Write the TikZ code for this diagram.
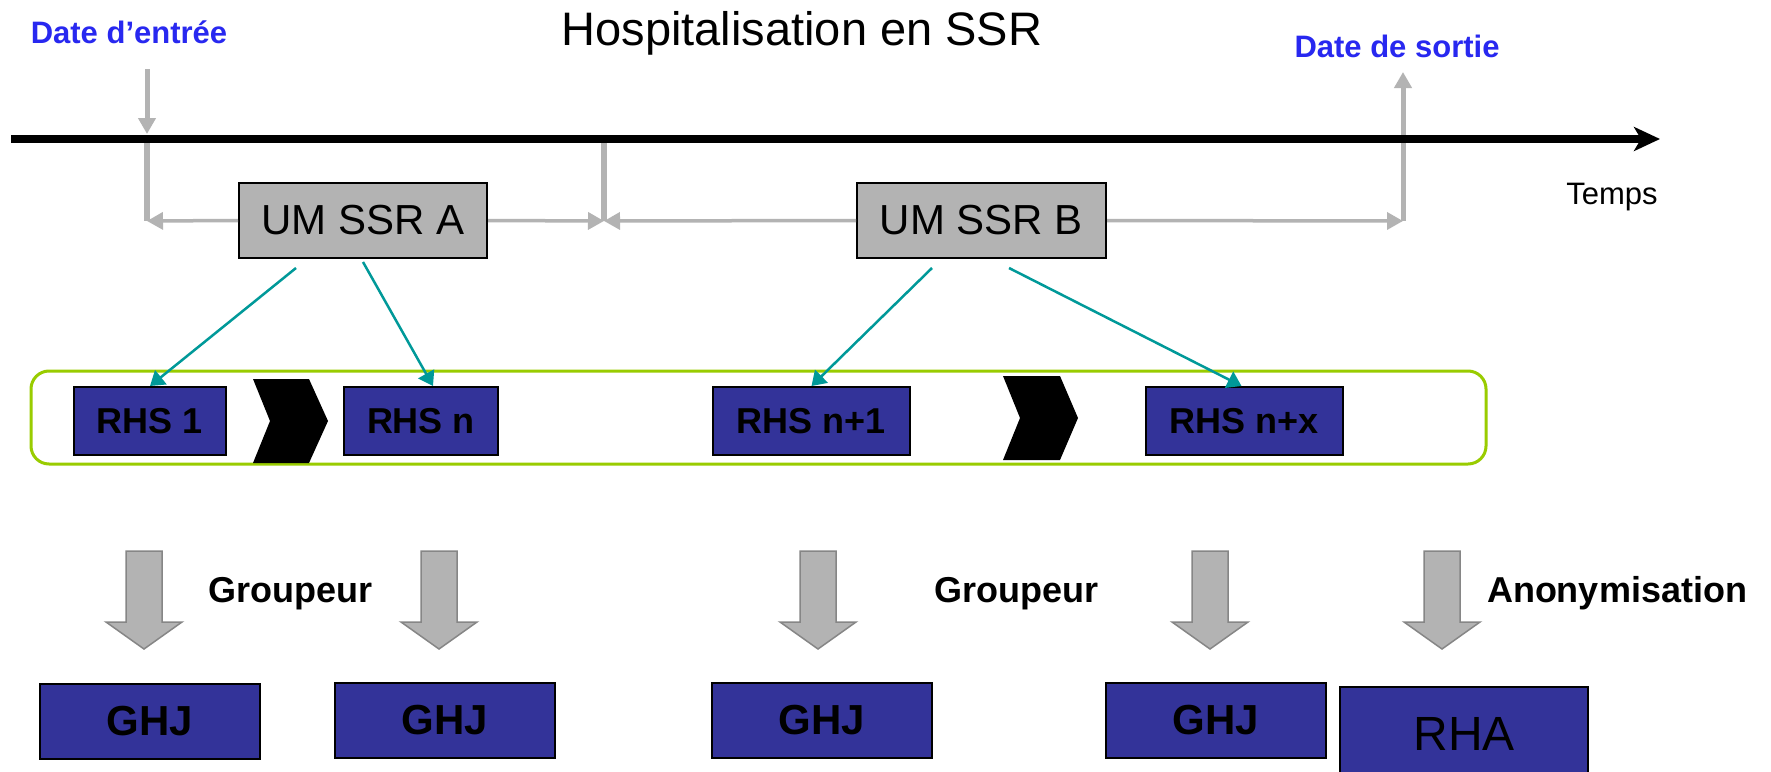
\documentclass[tikz,border=0pt]{standalone}
\usepackage{fontspec}
\setmainfont{Liberation Sans}
\usetikzlibrary{arrows.meta}
\definecolor{lblblue}{RGB}{40,40,240}
\definecolor{tealc}{RGB}{0,153,153}
\definecolor{limec}{RGB}{153,204,0}
\definecolor{navyc}{RGB}{51,51,153}
\definecolor{greyc}{RGB}{179,179,179}
\tikzset{
  umbox/.style={draw=black, line width=2pt, fill=greyc, minimum width=#1, minimum height=75pt, inner sep=0pt, font=\fontsize{42}{46}\selectfont},
  rhsbox/.style={draw=black, line width=2pt, fill=navyc, minimum width=#1, minimum height=68pt, inner sep=0pt, font=\fontsize{36}{40}\selectfont\bfseries},
  ghjbox/.style={draw=black, line width=2pt, fill=navyc, minimum width=220pt, minimum height=75pt, inner sep=0pt, font=\fontsize{42}{46}\selectfont\bfseries},
  bluelbl/.style={anchor=base, inner sep=0pt, text=lblblue, font=\fontsize{31}{34}\selectfont\bfseries},
  steplbl/.style={anchor=base, inner sep=0pt, font=\fontsize{36}{40}\selectfont\bfseries},
  greyarrow/.style={draw=greyc, line width=3.5pt, -{Triangle[length=16pt,width=17pt]}},
  greyvert/.style={draw=greyc, line width=6pt},
  tealarrow/.style={draw=tealc, line width=2.5pt, -{Triangle[length=14pt,width=18pt]}},
  blockarrow/.pic={\filldraw[fill=greyc, draw=greyc!75!black, line width=1.5pt] (-18,0) -- (18,0) -- (18,71) -- (38,71) -- (0,98) -- (-38,71) -- (-18,71) -- cycle;}
}
\begin{document}
\begin{tikzpicture}[x=1pt,y=-1pt]
\useasboundingbox (0,0) rectangle (1771,771);
\clip (0,0) rectangle (1771,771);
\fill[white] (0,0) rectangle (1771,771);

% title and labels
\node[anchor=base, inner sep=0pt, font=\fontsize{47}{51}\selectfont] (title) at (802,45) {Hospitalisation en SSR};
\node[bluelbl] (din) at (129,43) {Date d’entrée};
\node[bluelbl] (dout) at (1397,57) {Date de sortie};
\node[anchor=base, inner sep=0pt, font=\fontsize{31}{34}\selectfont] (temps) at (1612,204) {Temps};

% coordinates
\coordinate (inTop) at (147,69);
\coordinate (inBot) at (147,134);
\coordinate (aTop) at (147,142);
\coordinate (aBot) at (147,221);
\coordinate (mTop) at (604,142);
\coordinate (mBot) at (604,221);
\coordinate (bBot) at (1403,221);
\coordinate (bTop) at (1403,72);
\coordinate (tl0) at (11,139);
\coordinate (tl1) at (1660,139);

% UM boxes
\node[umbox=248pt] (umA) at (363,220.5) {UM SSR A};
\node[umbox=249pt] (umB) at (981.5,220.5) {UM SSR B};

% grey connectors
\draw[greyarrow, line width=5pt] (inTop) -- (inBot);
\draw[greyvert] (aTop) -- (aBot);
\draw[greyvert] (mTop) -- (mBot);
\draw[greyarrow] (umA.west) -- (aBot);
\draw[greyarrow] (umA.east) -- (mBot);
\draw[greyarrow] (umB.west) -- (mBot);
\draw[greyarrow] (umB.east) -- (bBot);
\draw[greyarrow, line width=5pt] (bBot) -- (bTop);

% timeline
\draw[line width=8pt, -{Stealth[length=26pt,width=24pt,inset=7pt]}] (tl0) -- (tl1);

% group frame
\draw[draw=limec, line width=3pt, rounded corners=18pt] (31,371) rectangle (1486,464);

% RHS boxes
\node[rhsbox=152pt] (rhs1) at (150,421) {RHS 1};
\node[rhsbox=154pt] (rhsn) at (421,421) {RHS n};
\node[rhsbox=197pt] (rhsn1) at (811.5,421) {RHS n+1};
\node[rhsbox=197pt] (rhsnx) at (1244.5,421) {RHS n+x};

% chevrons
\fill[black] (253,379) -- (309,379) -- (328,421) -- (309,463) -- (253,463) -- (270,421) -- cycle;
\fill[black] (1003,376) -- (1060,376) -- (1078,418) -- (1060,460) -- (1003,460) -- (1020,418) -- cycle;

% teal arrows
\draw[tealarrow] ([xshift=-67pt,yshift=-9pt]umA.south) -- (rhs1.north);
\draw[tealarrow] ([yshift=-3pt]umA.south) -- ([xshift=12pt]rhsn.north);
\draw[tealarrow] ([xshift=-49.5pt,yshift=-9pt]umB.south) -- (rhsn1.north);
\draw[tealarrow] ([xshift=27.5pt,yshift=-9pt]umB.south) -- ([xshift=-3pt]rhsnx.north);

% block arrows
\pic at (144,551) {blockarrow};
\pic at (439,551) {blockarrow};
\pic at (818,551) {blockarrow};
\pic at (1210,551) {blockarrow};
\pic at (1442,551) {blockarrow};

% step labels
\node[steplbl] (grp1) at (290,602) {Groupeur};
\node[steplbl] (grp2) at (1016,602) {Groupeur};
\node[steplbl] (anon) at (1617,602) {Anonymisation};

% result boxes
\node[ghjbox] (ghj1) at (150,721.5) {GHJ};
\node[ghjbox] (ghj2) at (444.5,720.5) {GHJ};
\node[ghjbox] (ghj3) at (822,720.5) {GHJ};
\node[ghjbox] (ghj4) at (1215.5,720.5) {GHJ};
\node[draw=black, line width=2pt, fill=navyc, minimum width=248pt, minimum height=94pt, inner sep=0pt, font=\fontsize{48}{52}\selectfont] (rha) at (1464,734) {RHA};
\end{tikzpicture}
\end{document}
